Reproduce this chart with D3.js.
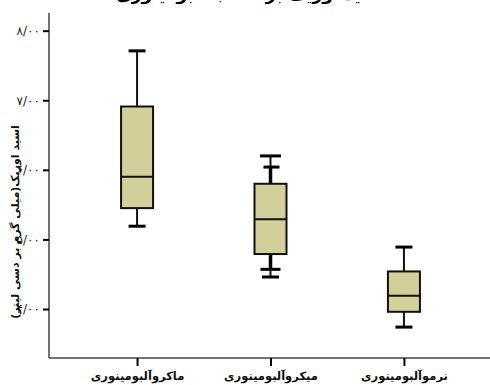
<!DOCTYPE html>
<html><head><meta charset="utf-8">
<script src="https://cdn.jsdelivr.net/npm/d3@7"></script>
<style>body{margin:0;background:#fff}svg{display:block}</style>
</head><body>
<script>
const categories = ["ماکروآلبومینوری", "میکروآلبومینوری", "نرموآلبومینوری"];
const whiskerHigh = [7.71, 6.20, 4.89];
const innerHigh   = [null, 6.04, null];
const q3          = [6.91, 5.80, 4.54];
const median      = [5.90, 5.29, 4.19];
const q1          = [5.45, 4.79, 3.96];
const innerLow    = [null, 4.57, null];
const whiskerLow  = [5.19, 4.46, 3.74];
const yTicks = [4, 5, 6, 7, 8];
const title = "اسید اوریک بر حسب آلبومینوری";
const yTitle = "اسید اوریک(میلی گرم بر دسی لیتر)";

const W = 490, H = 385;
const svg = d3.select("body").append("svg").attr("width", W).attr("height", H);
const y = d3.scaleLinear().domain([3.296, 8.254]).range([358, 13]);
const x = d3.scalePoint().domain(categories).range([49, 492]).padding(0.66);
const fa = d => d.toFixed(2).replace(".", "/").replace(/[0-9]/g, c => "۰۱۲۳۴۵۶۷۸۹"[+c]);

svg.append("text").attr("x", 250).attr("y", 0).attr("text-anchor", "middle")
  .attr("font-family", "DejaVu Sans").attr("font-weight", "bold").attr("font-size", 17)
  .text(title);

const ya = svg.append("g").attr("transform", "translate(49,0)")
  .call(d3.axisLeft(y).tickValues(yTicks).tickFormat(fa).tickSize(6).tickPadding(3));
ya.select(".domain").attr("stroke", "#444").attr("stroke-width", 1.5).attr("d", "M0,13V358");
ya.selectAll(".tick line").attr("stroke", "#000").attr("stroke-width", 2);
ya.selectAll(".tick text").attr("font-family", "DejaVu Sans").attr("font-size", 12).attr("fill", "#222");

const xa = svg.append("g").attr("transform", "translate(0,358)")
  .call(d3.axisBottom(x).tickSize(8).tickPadding(6));
xa.select(".domain").attr("stroke", "#444").attr("stroke-width", 1.5).attr("d", "M49,0H490");
xa.selectAll(".tick line").attr("stroke", "#000").attr("stroke-width", 2);
xa.selectAll(".tick text").attr("font-family", "DejaVu Sans").attr("font-weight", "bold")
  .attr("font-size", 11.5).attr("fill", "#111");

svg.append("text").attr("transform", "translate(19,222) rotate(-90)").attr("text-anchor", "middle")
  .attr("font-family", "DejaVu Sans").attr("font-weight", "bold").attr("font-size", 11)
  .attr("fill", "#111").text(yTitle);

const bw = 32, cw = 17;
const g = svg.append("g");
categories.forEach((c, i) => {
  const cx = x(c);
  g.append("line").attr("x1", cx).attr("x2", cx).attr("y1", y(whiskerHigh[i])).attr("y2", y(q3[i]))
    .attr("stroke", "#111").attr("stroke-width", 2);
  g.append("line").attr("x1", cx).attr("x2", cx).attr("y1", y(q1[i])).attr("y2", y(whiskerLow[i]))
    .attr("stroke", "#111").attr("stroke-width", 2);
  if (innerHigh[i] != null) {
    g.append("line").attr("x1", cx).attr("x2", cx).attr("y1", y(innerHigh[i])).attr("y2", y(q3[i]))
      .attr("stroke", "#000").attr("stroke-width", 3.5);
    g.append("line").attr("x1", cx - 7).attr("x2", cx + 9).attr("y1", y(innerHigh[i])).attr("y2", y(innerHigh[i]))
      .attr("stroke", "#000").attr("stroke-width", 3);
  }
  if (innerLow[i] != null) {
    g.append("line").attr("x1", cx).attr("x2", cx).attr("y1", y(q1[i])).attr("y2", y(innerLow[i]))
      .attr("stroke", "#000").attr("stroke-width", 3.5);
    g.append("line").attr("x1", cx - 10).attr("x2", cx + 10).attr("y1", y(innerLow[i])).attr("y2", y(innerLow[i]))
      .attr("stroke", "#000").attr("stroke-width", 3);
  }
  const capW = innerHigh[i] != null ? 21 : cw;
  g.append("line").attr("x1", cx - capW / 2).attr("x2", cx + capW / 2).attr("y1", y(whiskerHigh[i])).attr("y2", y(whiskerHigh[i]))
    .attr("stroke", "#000").attr("stroke-width", 3);
  g.append("line").attr("x1", cx - cw / 2).attr("x2", cx + cw / 2).attr("y1", y(whiskerLow[i])).attr("y2", y(whiskerLow[i]))
    .attr("stroke", "#000").attr("stroke-width", 3);
  g.append("rect").attr("x", cx - bw / 2).attr("width", bw).attr("y", y(q3[i])).attr("height", y(q1[i]) - y(q3[i]))
    .attr("fill", "#d3cf9b").attr("stroke", "#111").attr("stroke-width", 2);
  g.append("line").attr("x1", cx - bw / 2).attr("x2", cx + bw / 2).attr("y1", y(median[i])).attr("y2", y(median[i]))
    .attr("stroke", "#111").attr("stroke-width", 2);
});
</script>
</body></html>
